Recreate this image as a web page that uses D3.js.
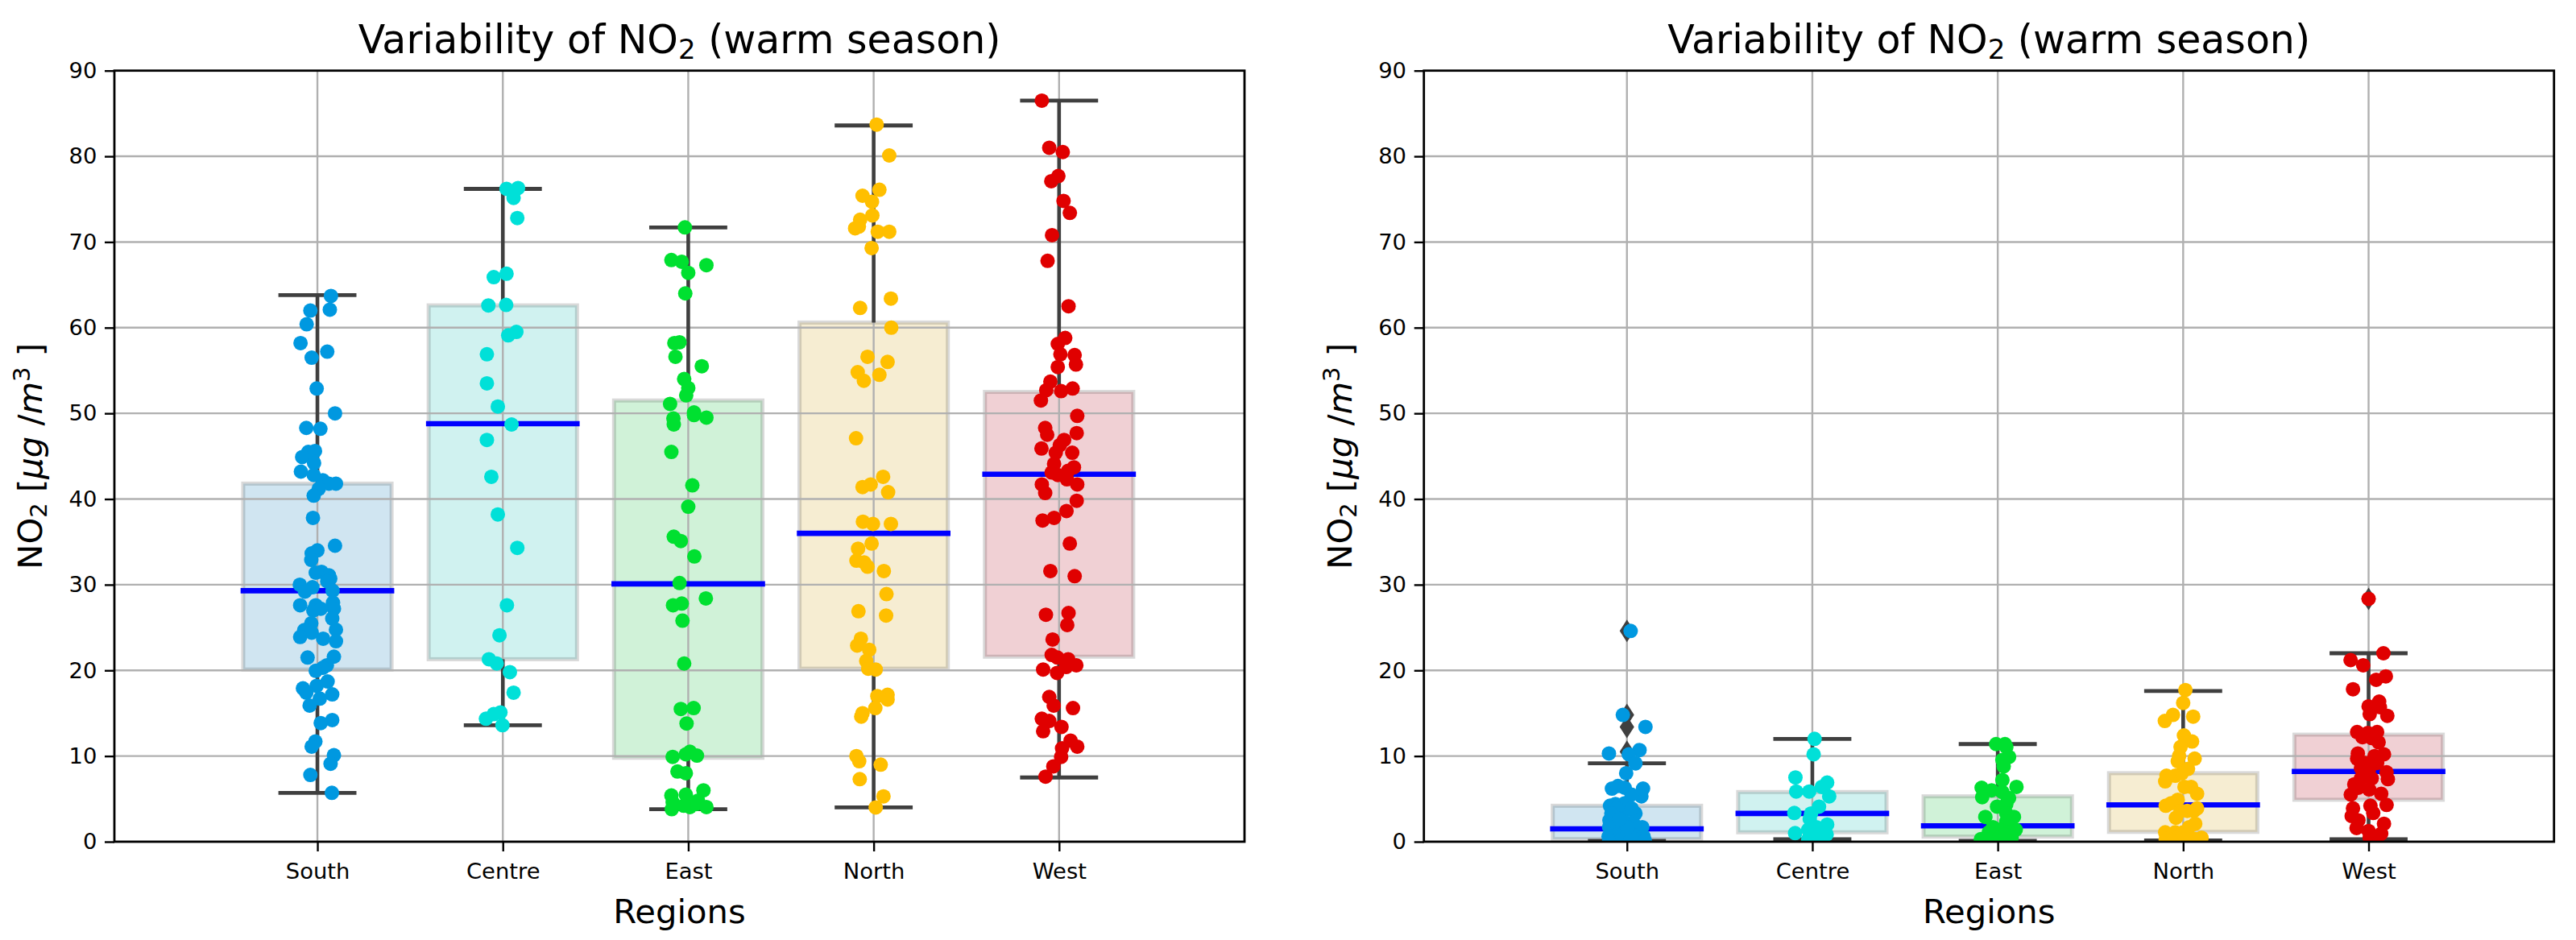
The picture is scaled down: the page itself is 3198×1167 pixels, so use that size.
<!DOCTYPE html>
<html><head><meta charset="utf-8">
<script src="https://cdn.jsdelivr.net/npm/d3@7"></script>
<style>
html,body{margin:0;padding:0;background:#fff}
text{font-family:"DejaVu Sans",sans-serif;fill:#000;white-space:pre}
</style></head><body>
<div id="chart"></div>
<script>
const regions = ["South","Centre","East","North","West"];
const yTicks = [0,10,20,30,40,50,60,70,80,90];
const dotColors = ["#0098e0","#00e0d8","#00e030","#ffbf00","#e00000"];
const boxColors = ["#147db9","#14beb4","#14be3c","#d2a51e","#b41428"];

// Left panel: box statistics
const leftQ1 = [20.1,21.3,9.8,20.2,21.6];
const leftQ3 = [41.8,62.6,51.5,60.6,52.5];
const leftMedian = [29.3,48.8,30.1,36,42.9];
const leftWhiskerLow = [5.7,13.6,3.8,4,7.5];
const leftWhiskerHigh = [63.8,76.2,71.7,83.6,86.5];

// Left panel: observations and strip-plot jitter (category units)
const leftSouthValues = [63.7,62,62.1,60.4,58.2,57.2,56.5,52.9,50,48.3,48.2,45.6,45.5,44.9,44.2,43.2,
 42.8,42.2,41.8,41.8,41.2,40.4,37.8,34.55,34,33.65,32.9,31.4,31.5,31.1,30.7,30.4,30,29.7,29.2,29.3,27.6,27.6,27.9,27.2,27,27.2,26.05,25.5,24.75,24.7,24.4,23.9,23.7,23.4,21.5,21.6,20.6,20.3,19.95,18.7,18.2,17.9,17.4,17.2,16.7,15.9,14.2,13.85,11.7,11.1,10.1,9.1,7.8,5.7];
const leftSouthJitter = [.073,-.038,.067,-.058,-.091,.053,-.031,-.004,.095,-.06,.016,-.013,-.049,-.082,-.018,-.089,
 -.02,.029,.062,.1,.007,-.02,-.024,.095,0,-.031,-.033,-.009,.022,.062,.069,.053,-.095,-.027,-.067,.082,-.093,-.009,.084,.089,-.022,.018,.08,-.033,.1,-.071,-.031,-.093,.031,.1,-.053,.089,.051,.029,-.009,.055,-.004,-.078,-.06,.08,.013,-.042,.08,.018,-.011,-.031,.089,.071,-.038,.078];
const leftCentreValues = [76.2,76.3,75.15,72.8,66.3,65.9,62.6,62.65,59.5,59.1,56.9,53.5,50.8,48.7,46.9,42.6,38.2,34.3,27.6,24.1,21.3,20.8,19.8,17.4,15.1,14.9,14.35,13.6];
const leftCentreJitter = [.02,.082,.058,.078,.02,-.049,-.078,.018,.073,.029,-.086,-.086,-.027,.047,-.086,-.062,-.027,.078,.022,-.018,-.075,-.033,.038,.058,-.013,-.049,-.091,-.002];
const leftEastValues = [71.7,67.9,67.7,67.3,66.4,64,58.3,58.2,56.6,55.5,54,52.96,52.1,51.1,49.8,50.1,49.4,48.7,49.5,45.5,41.6,39.1,35.6,35.1,33.3,30.2,28.4,27.8,27.6,25.8,20.8,15.5,15.6,13.8,10.5,9.9,10.2,10.05,8.2,8,6,5.4,5.5,4.8,3.8,4.05,4.4,4.05,4.6,4.2];
const leftEastJitter = [-.018,-.091,-.035,.098,0,-.016,-.047,-.075,-.069,.073,-.022,0,-.011,-.098,.031,.031,-.08,-.078,.098,-.091,.022,0,-.078,-.04,.033,-.047,.095,-.035,-.082,-.031,-.022,-.04,.029,-.009,.009,-.084,-.013,.047,-.058,-.013,.082,-.091,-.013,.053,-.089,.009,.042,.098,-.084,-.024];
const leftNorthValues = [83.7,80.1,76.1,75.4,74.7,73.1,72.6,71.8,71.6,71.2,71.2,69.3,63.4,62.3,60,56.6,56,54.8,54.5,53.8,47.1,42.6,41.7,41.4,40.8,37.35,37.1,37.1,34.8,34.2,32.8,32.6,32.1,31.6,28.9,26.9,26.4,23.7,22.9,22.4,21.1,20.2,20.1,17.15,17,16.6,15.6,15,14.6,10,9.4,9,7.3,5.3,4];
const leftNorthJitter = [.016,.084,.031,-.06,-.009,-.007,-.073,-.08,-.1,.022,.084,-.011,.093,-.073,.095,-.033,.075,-.086,.031,-.053,-.095,.051,-.016,-.06,.078,-.058,-.004,.093,-.011,-.084,-.093,-.051,-.033,.055,.069,-.082,.067,-.069,-.089,-.024,-.04,-.029,.011,.075,.02,.075,.009,-.06,-.067,-.093,-.078,.038,-.075,.053,.011];
const leftWestValues = [86.5,81,80.5,77.7,77.1,74.8,73.4,70.8,67.8,62.5,58.8,58.1,56.9,56.8,55.7,55.4,53.7,52.7,52.6,52.9,51.5,49.7,48.3,47.5,47.7,46.9,46.3,45.9,45.4,45.4,44.1,43.7,43.3,43.1,42.8,42.3,41.7,41.7,40.7,39.8,38.6,37.5,37.8,34.8,31.6,31,26.5,26.7,25.3,23.6,21.8,21.5,21.3,20.4,20.6,20.1,19.7,16.9,15.9,15.6,14.35,14.1,12.9,13.4,11.8,11.1,10.9,9.9,8.8,7.6];
const leftWestJitter = [-.093,-.053,.02,-.004,-.042,.024,.058,-.038,-.062,.051,.033,-.007,.007,.084,.091,-.007,-.047,-.069,.011,.073,-.098,.098,-.075,-.064,.095,.027,.004,-.095,.071,-.018,-.027,.08,.049,-.04,-.007,.042,-.093,.098,-.075,.095,.04,-.089,-.027,.058,-.047,.084,-.071,.051,.044,-.035,-.04,-.009,.049,.038,.093,-.086,-.011,-.053,-.029,.075,-.093,-.053,-.086,.013,.062,.098,.016,.011,-.031,-.073];

// Right panel: box statistics
const rightQ1 = [.3,1.1,.6,1.15,4.9];
const rightQ3 = [4.2,5.8,5.3,8,12.5];
const rightMedian = [1.5,3.3,1.85,4.3,8.2];
const rightWhiskerLow = [.1,.3,.1,.15,.3];
const rightWhiskerHigh = [9.15,12,11.4,17.6,22];
const rightFliers = [[24.6,14.8,13.4,10.5],[],[],[],[28.35]];

// Right panel: observations and jitter
const rightSouthValues = [24.6,14.8,13.4,10.3,10.7,10.2,9.15,8,6.2,6.5,6.3,6.2,5.3,5.5,4.2,4.4,4.5,3.3,2.5,3.3,3.9,3.3,1.7,1.7,2,2.35,2,.6,.8,1.1,.8,.6,.15,.3,.15,.3,.1,.1,1.7,2.66,3.9];
const rightSouthJitter = [.02,-.022,.1,-.097,.068,.01,.046,-.004,-.081,-.048,-.012,.087,.078,.025,-.091,-.062,-.012,.046,-.094,-.026,-.055,-.084,.083,-.096,-.055,-.012,.039,-.099,-.055,-.012,.032,.09,-.07,-.026,.017,.061,.097,-.096,.003,-.041,.025];
const rightCentreValues = [12,10.2,7.5,5.86,5.86,6.9,6.4,5.3,4.1,3.35,3.3,2.66,2,1,1.4,1.7,1.4,.85,.6,.8,.3,.47,1.1];
const rightCentreJitter = [.012,.007,-.091,-.087,-.017,.08,.051,.091,.036,-.097,-.007,-.014,.08,-.093,-.022,.022,.043,.077,-.007,.022,-.022,.036,.007];
const rightEastValues = [11.4,11.4,11.05,9.9,9.55,8.8,7.2,6.3,6.4,6,5.8,5.2,5.1,4.1,4.4,2.9,2.9,3.3,1.4,2.35,1.7,1.4,1.1,1.1,.3,.3,.47,.47,.8];
const rightEastJitter = [-.009,.039,.046,.061,.025,.032,.025,-.087,.101,-.033,.025,-.084,.061,-.004,.046,-.067,.087,.046,.097,.046,-.026,.01,-.048,.061,-.091,-.041,.01,.075,.039];
const rightNorthValues = [17.7,16.2,14.8,14.1,14.6,12.4,11.7,11.06,9.7,10,9.4,8.5,7.7,7.05,7.7,8,6.4,5.6,6.4,4.2,4.9,4.5,3.9,3.6,2.8,3.6,3.6,2.1,1.7,1.1,1.1,1.1,.3,.47,.47,.47,.3,.15];
const rightNorthJitter = [.012,0,-.055,-.099,.054,.004,.048,-.014,.062,-.022,-.029,.026,-.09,-.097,-.043,-.007,.043,.075,.007,-.094,-.029,-.065,.075,-.014,-.039,.022,.058,.065,.032,-.097,-.043,0,-.094,-.036,.022,.099,.065,-.065];
const rightWestValues = [28.35,22,21.2,20.6,19.3,18.9,17.8,16.35,15.8,15.7,14.9,14.7,12.8,12.8,12.7,12.2,12.1,11.6,10.3,10.2,10,9.7,9.2,9.2,8.6,8.5,8.1,6.7,7.4,7.3,7.4,5.6,5.5,6.3,6.1,4.2,4.3,3.9,3,3.35,2.5,1.6,2.1,1.25,.94,.47,.47];
const rightWestJitter = [0,.08,-.097,-.029,.093,.041,-.084,.057,0,.061,.006,.101,-.062,.046,-.004,-.033,.017,.054,-.058,.083,.032,-.062,-.019,.046,-.041,.003,.097,-.077,-.041,.104,.017,.068,-.096,-.055,.003,.01,.097,-.084,-.091,.025,-.055,-.065,.083,0,.068,.006,.046];

const leftValues = [leftSouthValues,leftCentreValues,leftEastValues,leftNorthValues,leftWestValues];
const leftJitter = [leftSouthJitter,leftCentreJitter,leftEastJitter,leftNorthJitter,leftWestJitter];
const rightValues = [rightSouthValues,rightCentreValues,rightEastValues,rightNorthValues,rightWestValues];
const rightJitter = [rightSouthJitter,rightCentreJitter,rightEastJitter,rightNorthJitter,rightWestJitter];

[...leftValues.map((v,i)=>[v,leftJitter[i],"L"+i]),...rightValues.map((v,i)=>[v,rightJitter[i],"R"+i])].forEach(([v,j,n])=>{
  if(v.length!==j.length) throw new Error("length mismatch "+n+" "+v.length+" "+j.length);
});

const W=3198,H=1167,TOP=87.7,BOTTOM=1045;
const GRID="#b0b0b0",LINE="#3f3f3f";
const svg=d3.select("#chart").append("svg").attr("width",W).attr("height",H).style("display","block");

function panel(id,opt){
  const x=d3.scaleLinear().domain(opt.xlim).range([opt.left,opt.right]);
  const y=d3.scaleLinear().domain([0,90]).range([BOTTOM,TOP]);
  const g=svg.append("g");
  const clip=id+"clip";
  svg.append("clipPath").attr("id",clip).append("rect")
    .attr("x",opt.left).attr("y",TOP).attr("width",opt.right-opt.left).attr("height",BOTTOM-TOP);
  const plot=g.append("g").attr("clip-path",`url(#${clip})`);
  const idx=d3.range(regions.length);
  const boxW=0.8,capW=0.4;

  plot.selectAll("rect.box").data(idx).join("rect").attr("class","box")
    .attr("x",i=>x(i-boxW/2)).attr("width",i=>x(i+boxW/2)-x(i-boxW/2))
    .attr("y",i=>y(opt.q3[i])).attr("height",i=>y(opt.q1[i])-y(opt.q3[i]))
    .attr("fill",i=>boxColors[i]).attr("fill-opacity",.2)
    .attr("stroke",LINE).attr("stroke-opacity",.2).attr("stroke-width",5);

  yTicks.forEach(t=>plot.append("line").attr("x1",opt.left).attr("x2",opt.right).attr("y1",y(t)).attr("y2",y(t)).attr("stroke",GRID).attr("stroke-width",2.4));
  idx.forEach(i=>plot.append("line").attr("x1",x(i)).attr("x2",x(i)).attr("y1",TOP).attr("y2",BOTTOM).attr("stroke",GRID).attr("stroke-width",2.4));

  const seg=(x1,x2,y1,y2,c,w,cap)=>plot.append("line").attr("x1",x1).attr("x2",x2).attr("y1",y1).attr("y2",y2)
    .attr("stroke",c).attr("stroke-width",w).attr("stroke-linecap",cap||"butt");
  idx.forEach(i=>{
    seg(x(i),x(i),y(opt.q1[i]),y(opt.wLow[i]),LINE,4.6);
    seg(x(i),x(i),y(opt.q3[i]),y(opt.wHigh[i]),LINE,4.6);
    seg(x(i-capW/2),x(i+capW/2),y(opt.wLow[i]),y(opt.wLow[i]),LINE,4.8,"square");
    seg(x(i-capW/2),x(i+capW/2),y(opt.wHigh[i]),y(opt.wHigh[i]),LINE,4.8,"square");
    (opt.fliers?opt.fliers[i]:[]).forEach(v=>{
      const px=x(i),py=y(v),a=9,b=14;
      plot.append("path").attr("d",`M${px},${py-b}L${px+a},${py}L${px},${py+b}L${px-a},${py}Z`).attr("fill",LINE);
    });
    seg(x(i-boxW/2),x(i+boxW/2),y(opt.median[i]),y(opt.median[i]),"#0000ff",6.6,"square");
  });

  idx.forEach(i=>{
    plot.selectAll(null).data(opt.values[i]).join("circle")
      .attr("cx",(d,k)=>x(i+opt.jitter[i][k])).attr("cy",d=>y(d)).attr("r",9).attr("fill",dotColors[i]);
  });

  const ax=g.append("g").attr("transform",`translate(${opt.left},0)`)
    .call(d3.axisLeft(y).tickValues(yTicks).tickSize(12).tickPadding(9.7).tickFormat(d3.format("d")));
  const bx=g.append("g").attr("transform",`translate(0,${BOTTOM})`)
    .call(d3.axisBottom(x).tickValues(idx).tickSize(12).tickPadding(15).tickFormat(i=>regions[i]));
  [ax,bx].forEach(a=>{
    a.select(".domain").remove();
    a.selectAll(".tick line").attr("stroke","#000").attr("stroke-width",2.4);
    a.selectAll(".tick text").attr("font-size",27.4).attr("font-family","DejaVu Sans").attr("fill","#000");
  });
  g.append("rect").attr("x",opt.left).attr("y",TOP).attr("width",opt.right-opt.left).attr("height",BOTTOM-TOP)
    .attr("fill","none").attr("stroke","#000").attr("stroke-width",2.8);

  const cx=(opt.left+opt.right)/2;
  const title=g.append("text").attr("x",cx).attr("y",66).attr("text-anchor","middle").attr("font-size",49);
  title.append("tspan").text("Variability of NO");
  title.append("tspan").attr("font-size",34).attr("dy",7).text("2");
  title.append("tspan").attr("dy",-7).text(" (warm season)");

  g.append("text").attr("x",cx).attr("y",1146).attr("text-anchor","middle").attr("font-size",41.7).text("Regions");

  const yl=g.append("text").attr("transform",`translate(${opt.left-90},${(TOP+BOTTOM)/2}) rotate(-90)`)
    .attr("text-anchor","middle").attr("font-size",41.7);
  yl.append("tspan").text("NO");
  yl.append("tspan").attr("font-size",29).attr("dy",6).text("2");
  yl.append("tspan").attr("dy",-6).text(" [");
  yl.append("tspan").attr("font-style","italic").text("μg");
  yl.append("tspan").text(" /");
  yl.append("tspan").attr("font-style","italic").text("m");
  yl.append("tspan").attr("font-size",29).attr("dy",-15).text("3");
  yl.append("tspan").attr("dy",15).text(" ]");
}

panel("left",{xlim:[-1.095,5],left:142,right:1545,q1:leftQ1,q3:leftQ3,median:leftMedian,wLow:leftWhiskerLow,wHigh:leftWhiskerHigh,values:leftValues,jitter:leftJitter});
panel("right",{xlim:[-1.095,5],left:1767.7,right:3170.7,q1:rightQ1,q3:rightQ3,median:rightMedian,wLow:rightWhiskerLow,wHigh:rightWhiskerHigh,fliers:rightFliers,values:rightValues,jitter:rightJitter});
</script>
</body></html>
